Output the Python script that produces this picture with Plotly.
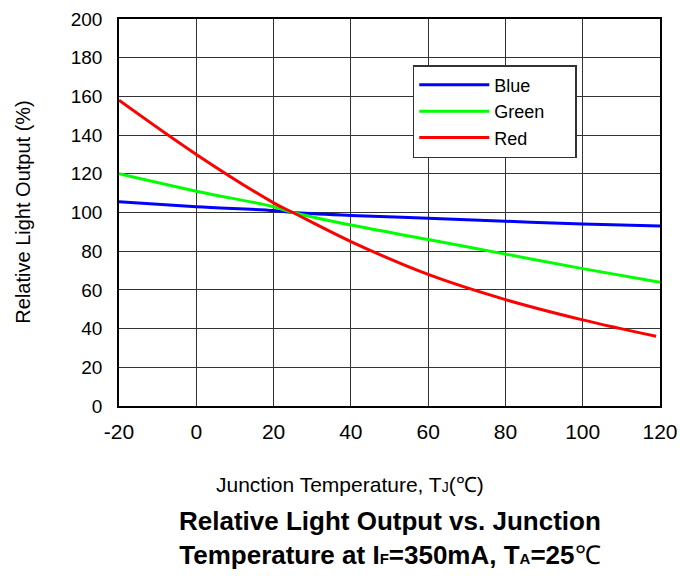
import plotly.graph_objects as go

temps = [-20, 0, 20, 25, 40, 60, 80, 100, 120]
blue = [105.5, 103, 101, 100, 98.5, 97, 95.5, 94, 93]
green = [120, 111, 103, 100, 93.5, 86, 78.5, 71, 64]
red_t = [-20, 0, 20, 25, 40, 60, 80, 100, 119]
red = [158, 130, 105, 100, 85, 68, 55, 44.5, 36]
x_ticks = [-20, 0, 20, 40, 60, 80, 100, 120]
x_labels = ["-20", "0", "20", "40", "60", "80", "100", "120"]
y_ticks = list(range(0, 201, 20))
pad = "\u00a0" * 5

fig = go.Figure()
fig.add_trace(go.Scatter(x=temps, y=blue, mode="lines", name="Blue" + pad,
                         line=dict(color="#0000ff", width=3, shape="spline")))
fig.add_trace(go.Scatter(x=temps, y=green, mode="lines", name="Green" + pad,
                         line=dict(color="#00ff00", width=3, shape="spline")))
fig.add_trace(go.Scatter(x=red_t, y=red, mode="lines", name="Red" + pad,
                         line=dict(color="#ff0000", width=3, shape="spline")))

font = "Liberation Sans, Arial, sans-serif"
fig.update_layout(
    width=680, height=576,
    margin=dict(l=119, r=20, t=19, b=170, autoexpand=False),
    paper_bgcolor="white", plot_bgcolor="white",
    font=dict(family=font, color="black", size=20),
    showlegend=True,
    legend=dict(x=0.543, y=0.881, xanchor="left", yanchor="top",
                bordercolor="#333", borderwidth=1.5, bgcolor="white",
                font=dict(size=18), tracegroupgap=0, itemwidth=70),
    xaxis=dict(range=[-20, 120], tickvals=x_ticks, ticktext=x_labels,
               tickfont=dict(size=21), ticklabeloverflow="allow",
               showgrid=True, gridcolor="#333", gridwidth=1, automargin=False,
               showline=True, linecolor="black", linewidth=1.5, mirror=True,
               ticks="", ticklabelstandoff=6, zeroline=False),
    yaxis=dict(range=[0, 200], tickvals=y_ticks, automargin=False,
               tickfont=dict(size=19),
               showgrid=True, gridcolor="#333", gridwidth=1,
               showline=True, linecolor="black", linewidth=1.5, mirror=True,
               ticks="", ticklabelstandoff=11, zeroline=False),
    annotations=[
        dict(text="Relative Light Output (%)", xref="paper", yref="paper",
             x=-0.179, y=0.5, xanchor="center", yanchor="middle", textangle=-90,
             showarrow=False, font=dict(size=20)),
        dict(text="Junction Temperature, T<span style='font-size:14px'>J</span>(℃)",
             xref="paper", yref="paper",
             x=0.427, y=-0.204, xanchor="center", yanchor="middle", showarrow=False,
             font=dict(size=21)),
        dict(text="<b>Relative Light Output vs. Junction<br>Temperature at I<span style='font-size:15px'>F</span>=350mA, T<span style='font-size:15px'>A</span>=25</b>℃",
             xref="paper", yref="paper", x=0.5, y=-0.34, xanchor="center", yanchor="middle",
             showarrow=False, font=dict(size=26)),
    ],
)
fig.write_html("out.html", config={"displayModeBar": False},
               post_script="document.body.style.margin='0';")
